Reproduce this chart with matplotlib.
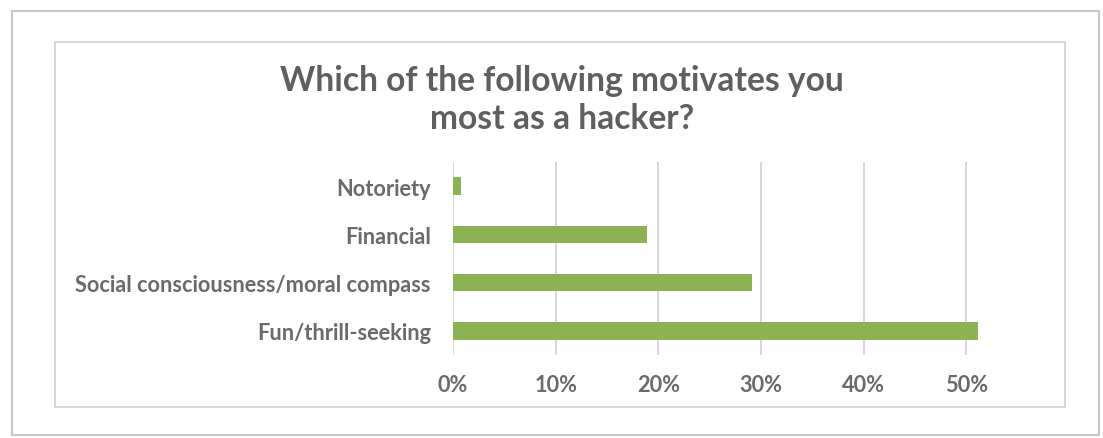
import matplotlib
matplotlib.use("Agg")
import matplotlib.pyplot as plt
from matplotlib.patches import Rectangle
from matplotlib.ticker import FuncFormatter

categories = ["Notoriety", "Financial", "Social consciousness/moral compass", "Fun/thrill-seeking"]
values = [0.008, 0.189, 0.291, 0.511]
xticks = [0, 0.1, 0.2, 0.3, 0.4, 0.5]
title = "Which of the following motivates you\nmost as a hacker?"

W, H = 1103, 439
fig = plt.figure(figsize=(W / 100, H / 100), dpi=100)
fig.patch.set_facecolor("white")

def fx(px):
    return px / W

def fy(py):
    return 1 - py / H

# outer frame
fig.add_artist(Rectangle((fx(12), fy(436)), fx(1099 - 12), (436 - 12) / H,
                         transform=fig.transFigure, fill=False,
                         edgecolor="#c8c8c8", linewidth=1.5))
# inner chart box
fig.add_artist(Rectangle((fx(55), fy(408)), fx(1065 - 55), (408 - 43) / H,
                         transform=fig.transFigure, fill=False,
                         edgecolor="#d0d0d0", linewidth=1.2))

left, right = 453, 453 + 5.5 * 102.7
top, bottom = 163, 356
ax = fig.add_axes([fx(left), fy(bottom), fx(right - left), (bottom - top) / H])
ax.set_facecolor("none")

ypos = list(range(len(categories)))
ax.barh(ypos, values, height=0.36, color="#8cb254", zorder=3)
ax.set_ylim(len(categories) - 0.5, -0.5)
ax.set_xlim(0, 0.55)
ax.set_xticks(xticks)
ax.xaxis.set_major_formatter(FuncFormatter(lambda v, p: f"{v*100:.0f}%"))
ax.set_yticks(ypos)
ax.set_yticklabels(categories)
ax.grid(axis="x", color="#d4d4d4", linewidth=1.3, zorder=0)
for s in ax.spines.values():
    s.set_visible(False)
ax.tick_params(length=0)
ax.tick_params(axis="x", pad=14)
ax.tick_params(axis="y", pad=16)

font = ["Lato", "DejaVu Sans"]
for lab in ax.get_xticklabels() + ax.get_yticklabels():
    lab.set_fontfamily(font)
    lab.set_fontweight("bold")
    lab.set_fontsize(15.7)
    lab.set_color("#6a6a6a")

fig.text(fx(562), fy(100), title, ha="center", va="center", fontweight="bold",
         fontsize=24.2, color="#5f5f5f", family=font, linespacing=1.2)

fig.savefig("out.png", dpi=100, facecolor="white")
